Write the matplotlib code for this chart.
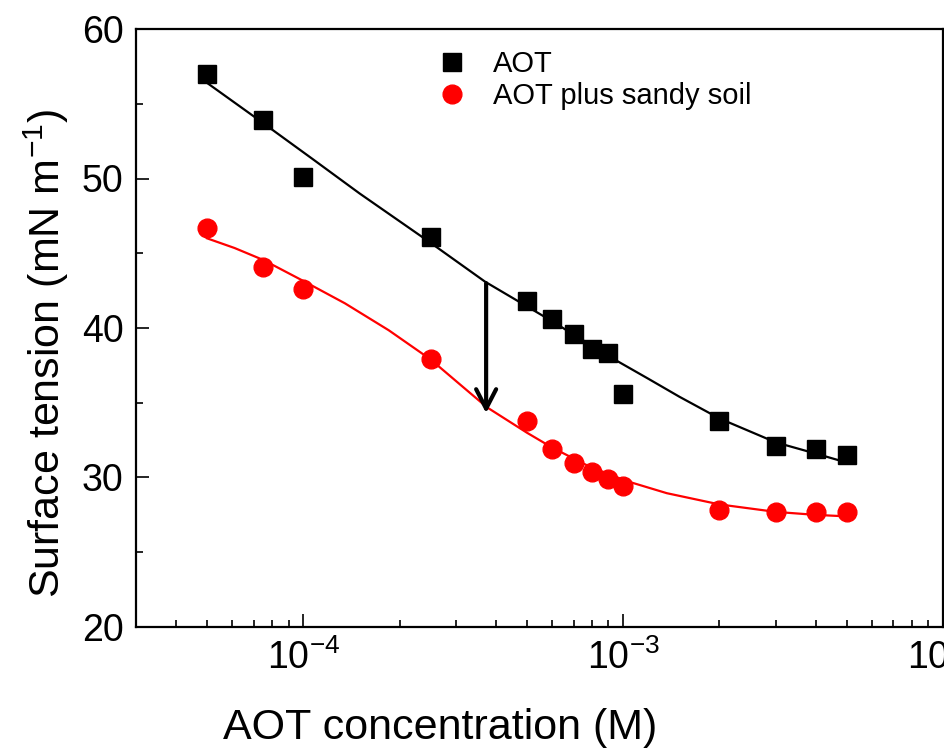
import matplotlib
matplotlib.use("Agg")
import matplotlib.pyplot as plt
from matplotlib.ticker import LogLocator, MultipleLocator, NullFormatter

plt.rcParams['font.family'] = ['Liberation Sans', 'DejaVu Sans']
plt.rcParams['mathtext.fontset'] = 'custom'
plt.rcParams['mathtext.rm'] = 'Liberation Sans'
plt.rcParams['mathtext.it'] = 'Liberation Sans:italic'
plt.rcParams['mathtext.bf'] = 'Liberation Sans:bold'

# measured data
conc = [5e-5, 7.5e-5, 1e-4, 2.5e-4, 5e-4, 6e-4, 7e-4, 8e-4, 9e-4, 1e-3,
        2e-3, 3e-3, 4e-3, 5e-3]
aot = [57.0, 53.9, 50.1, 46.1, 41.8, 40.6, 39.6, 38.6, 38.3, 35.6,
       33.8, 32.1, 31.9, 31.5]
aot_soil = [46.7, 44.1, 42.6, 37.9, 33.8, 31.9, 31.0, 30.4, 29.9, 29.4,
            27.8, 27.7, 27.7, 27.7]

# fitted curves
aot_fit_x = [5.0e-5, 7.5e-5, 1.07e-4, 1.5e-4, 2.5e-4, 3.7e-4, 5.0e-4, 6.0e-4,
             7.2e-4, 9.3e-4, 1.2e-3, 1.5e-3, 2.0e-3, 3.0e-3, 4.0e-3, 5.0e-3]
aot_fit_y = [56.4, 53.7, 51.3, 49.0, 45.7, 43.1, 41.45, 40.45,
             39.4, 37.95, 36.6, 35.4, 33.95, 32.35, 31.6, 31.0]
soil_fit_x = [5.0e-5, 6.1e-5, 7.5e-5, 1.0e-4, 1.35e-4, 1.85e-4, 2.5e-4,
              3.1e-4, 3.75e-4, 5.0e-4, 6.0e-4, 7.9e-4, 1.03e-3, 1.37e-3,
              2.0e-3, 3.0e-3, 4.0e-3, 5.0e-3]
soil_fit_y = [46.0, 45.35, 44.55, 43.15, 41.65, 39.85, 37.9,
              36.2, 34.7, 33.0, 32.0, 30.7, 29.75, 28.95,
              28.2, 27.7, 27.5, 27.4]

# arrow from the AOT curve down to the AOT + soil curve
arrow_x = 3.73e-4
arrow_y = [43.0, 34.3]

fig = plt.figure(figsize=(9.44, 7.51), dpi=100)
ax = fig.add_axes([136 / 944, 124 / 751, 807 / 944, 598 / 751])

ax.plot(aot_fit_x, aot_fit_y, color='black', lw=1.6, zorder=2,
        solid_joinstyle='round')
ax.plot(soil_fit_x, soil_fit_y, color='red', lw=1.6, zorder=2,
        solid_joinstyle='round')
ax.plot(conc, aot, ls='none', marker='s', ms=12.5, color='black',
        label='AOT', zorder=3)
ax.plot(conc, aot_soil, ls='none', marker='o', ms=13.5, color='red',
        label='AOT plus sandy soil', zorder=3)

ax.annotate('', xy=(arrow_x, arrow_y[1]), xytext=(arrow_x, arrow_y[0]),
            arrowprops=dict(arrowstyle='->, head_length=0.7, head_width=0.36',
                            lw=3, color='black', mutation_scale=20,
                            shrinkA=0, shrinkB=0))

ax.set_xscale('log')
ax.set_xlim(3e-5, 1e-2)
ax.set_ylim(20, 60)
ax.yaxis.set_major_locator(MultipleLocator(10))
ax.yaxis.set_minor_locator(MultipleLocator(5))
ax.xaxis.set_major_locator(LogLocator(base=10, numticks=10))
ax.xaxis.set_minor_locator(LogLocator(base=10, subs=range(2, 10), numticks=20))
ax.xaxis.set_minor_formatter(NullFormatter())

ax.tick_params(which='both', direction='in', width=1.2, labelsize=27,
               top=False, right=False)
ax.tick_params(which='major', length=9.5, pad=9)
ax.tick_params(which='minor', length=5)
for sp in ax.spines.values():
    sp.set_linewidth(1.6)

ax.set_xlabel('AOT concentration (M)', fontsize=31)
ax.set_ylabel('Surface tension (mN m$^{-1}$)', fontsize=31)
ax.xaxis.set_label_coords(0.377, -0.135)
ax.yaxis.set_label_coords(-0.08, 0.458)

ax.legend(loc='upper left', bbox_to_anchor=(0.374, 0.965), frameon=False,
          fontsize=21, handlelength=1.0, handletextpad=0.9,
          labelspacing=0.15, borderpad=0, borderaxespad=0, numpoints=1)

fig.savefig('out.png', dpi=100)
